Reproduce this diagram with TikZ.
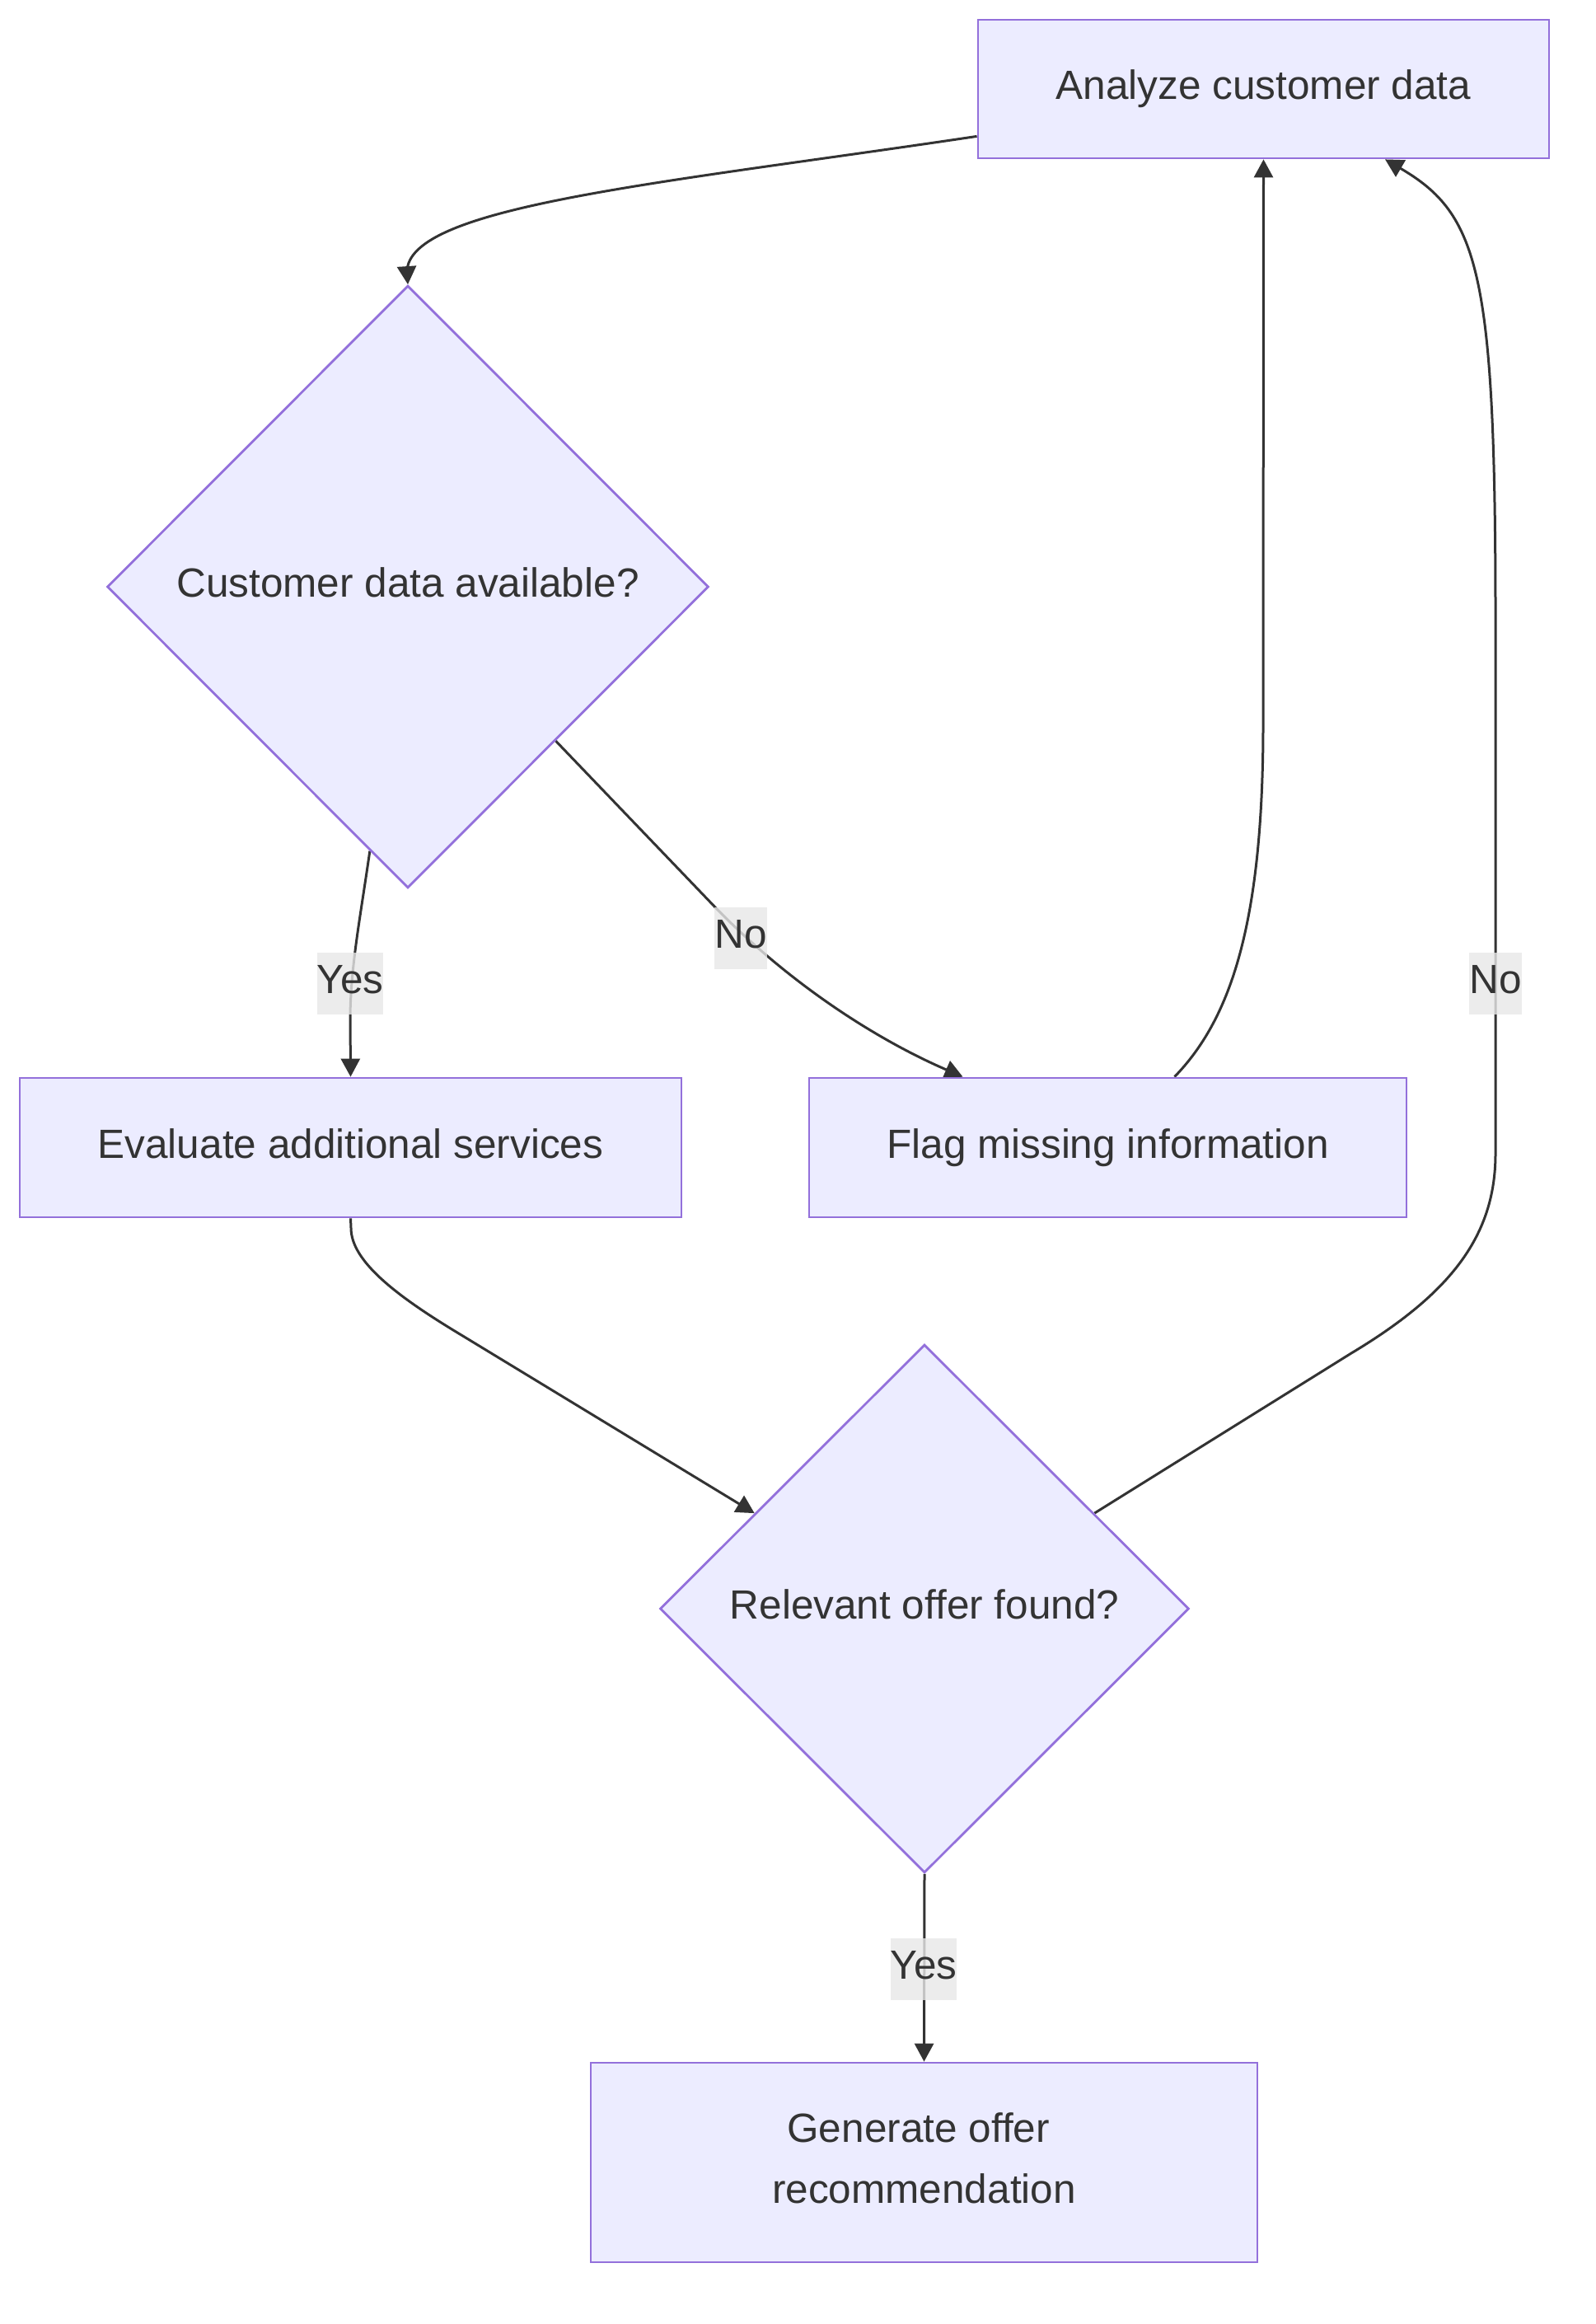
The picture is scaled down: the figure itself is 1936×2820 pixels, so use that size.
\documentclass[tikz,border=0pt]{standalone}
\usepackage{fontspec}
\setmainfont{Liberation Sans}
\usetikzlibrary{arrows.meta,shapes.geometric,calc,backgrounds}
\definecolor{nodefill}{HTML}{ECECFF}
\definecolor{nodeline}{HTML}{9370DB}
\definecolor{ink}{HTML}{333333}
\definecolor{labelbg}{HTML}{E8E8E8}
\begin{document}
\begin{tikzpicture}[x=1pt,y=-1pt,
  every node/.style={font=\fontsize{49.5}{74}\selectfont, text=ink},
  oneline/.style={text height=35.5pt, text depth=10.5pt},
  procbox/.style={draw=nodeline, fill=nodefill, line width=2.8pt, rectangle, inner sep=0pt, align=center},
  decision/.style={draw=nodeline, fill=nodefill, line width=2.8pt, diamond, aspect=1, inner sep=0pt, oneline},
  edgelabel/.style={fill=labelbg, fill opacity=0.8, text opacity=1, inner xsep=0pt, inner ysep=0pt, minimum height=75pt, oneline},
  link/.style={draw=ink, line width=3pt, -{Triangle[length=22pt,width=23pt]}},
]
\useasboundingbox (0,0) rectangle (1936,2820);

% nodes
\node[procbox, oneline, minimum width=693pt, minimum height=168pt] (A) at (1533.5,108) {Analyze customer data};
\node[decision, minimum width=730pt, minimum height=731pt] (D1) at (495,712) {Customer data available?};
\node[procbox, oneline, minimum width=803pt, minimum height=169pt] (E) at (425.5,1392.5) {Evaluate additional services};
\node[procbox, oneline, minimum width=725pt, minimum height=169pt] (F) at (1344.5,1392.5) {Flag missing information};
\node[decision, minimum width=642pt, minimum height=641pt] (D2) at (1122,1952) {Relevant offer found?};
\node[procbox, minimum width=809pt, minimum height=242pt] (G) at (1121.5,2624) {Generate offer\kern0.278em\\recommendation\vphantom{g}};

% connectors (under the nodes, as in the reference)
\begin{scope}[on background layer]
\fill[white] (0,0) rectangle (1936,2820);
\draw[link] ([yshift=28pt]A.south west) .. controls (800,223) and (494,250) .. (494,330) -- (D1.north);
\draw[link] ($(D1.south)!0.126!(D1.west)$) .. controls (437,1115) and (426,1170) .. (425,1232) -- (E.north);
\draw[link] ($(D1.south)!0.49!(D1.east)$) -- (870,1103) .. controls (960,1195) and (1065,1262) .. ([xshift=-176pt]F.north);
\draw[link] ([xshift=81pt]F.north) .. controls (1490,1240) and (1533,1130) .. (1533,880) -- (A.south);
\draw[link] (E.south) -- (426,1490) .. controls (426,1530) and (480,1572) .. (560,1620) -- ($(D2.west)!0.36!(D2.north)$);
\draw[link] ($(D2.north)!0.64!(D2.east)$) -- (1640,1642) .. controls (1760,1570) and (1815,1500) .. (1815,1400) -- (1815,750) .. controls (1815,330) and (1795,260) .. ([xshift=147.5pt]A.south);
\draw[link] (D2.south) -- (G.north);
\end{scope}

% edge labels
\node[edgelabel] (L1) at (425,1193) {Yes};
\node[edgelabel] (L2) at (899,1138) {No};
\node[edgelabel] (L3) at (1815,1193) {No};
\node[edgelabel] (L4) at (1121,2389) {Yes};
\end{tikzpicture}
\end{document}
